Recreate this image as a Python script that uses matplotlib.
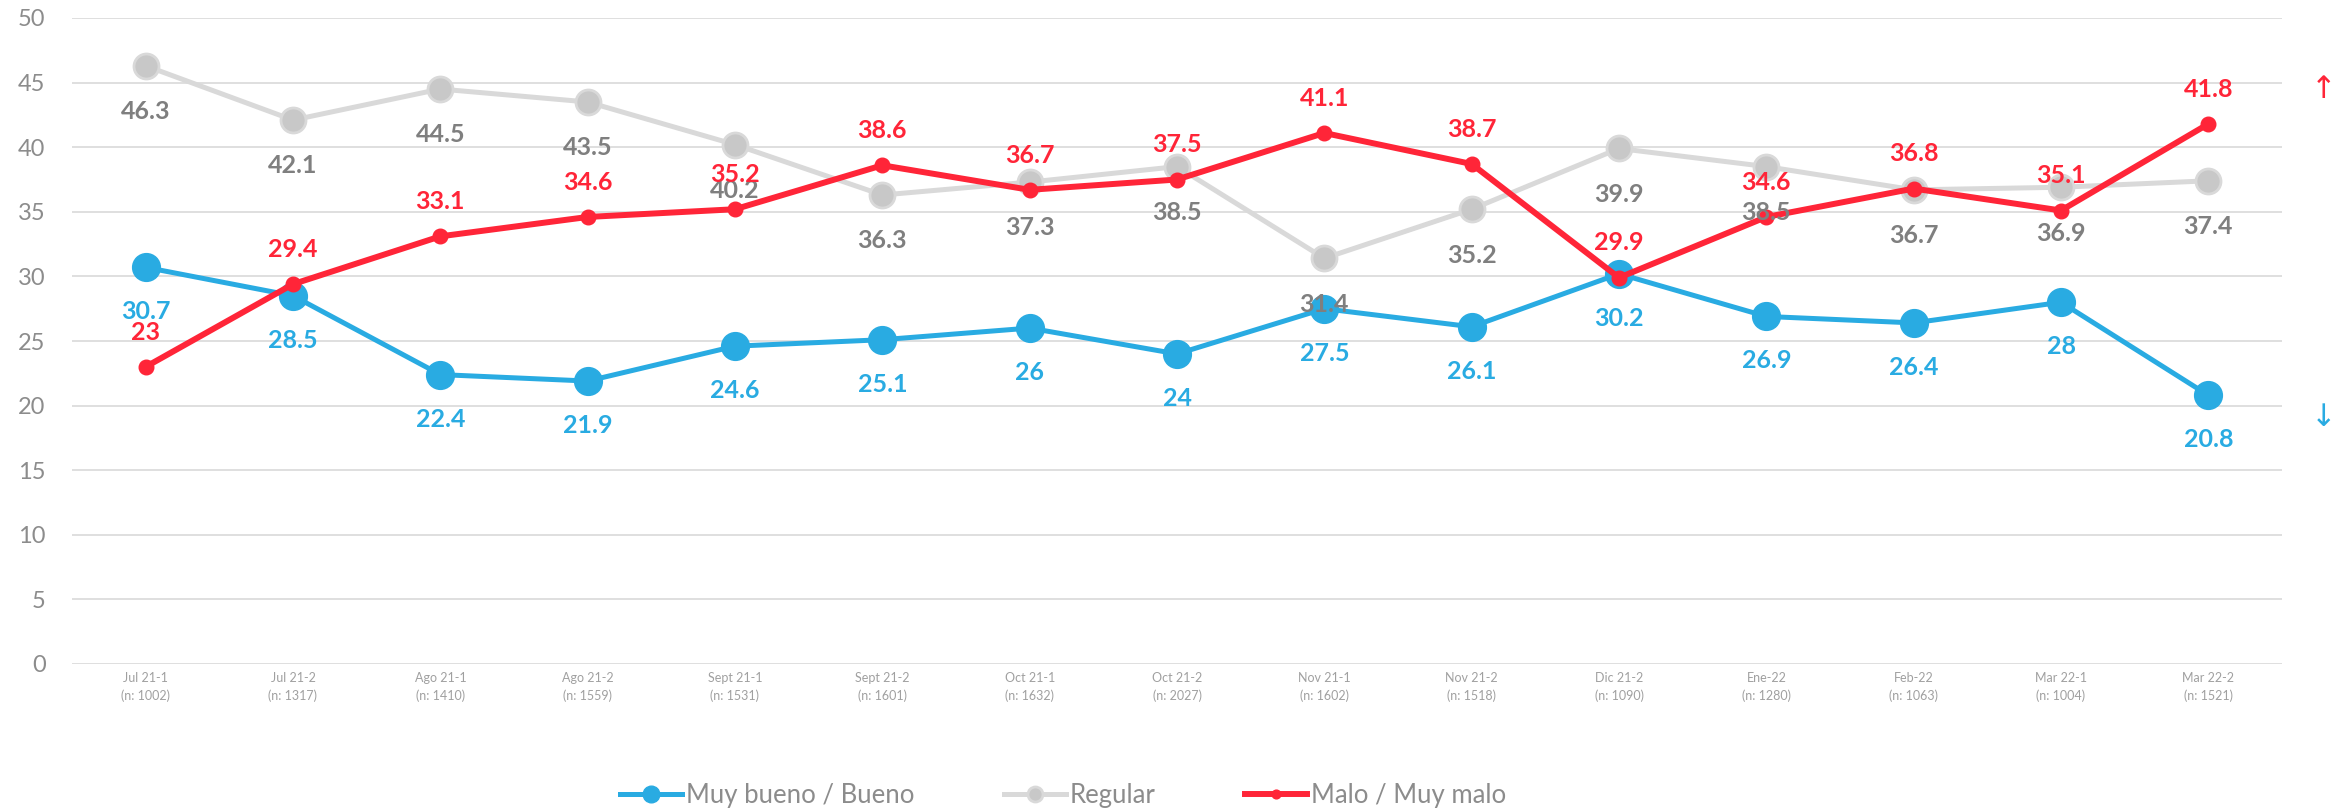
import matplotlib.pyplot as plt

periods = ["Jul 21-1", "Jul 21-2", "Ago 21-1", "Ago 21-2", "Sept 21-1", "Sept 21-2",
           "Oct 21-1", "Oct 21-2", "Nov 21-1", "Nov 21-2", "Dic 21-2", "Ene-22",
           "Feb-22", "Mar 22-1", "Mar 22-2"]
samples = [1002, 1317, 1410, 1559, 1531, 1601, 1632, 2027, 1602, 1518, 1090, 1280,
           1063, 1004, 1521]

muy_bueno = [30.7, 28.5, 22.4, 21.9, 24.6, 25.1, 26, 24, 27.5, 26.1, 30.2, 26.9, 26.4, 28, 20.8]
regular = [46.3, 42.1, 44.5, 43.5, 40.2, 36.3, 37.3, 38.5, 31.4, 35.2, 39.9, 38.5, 36.7, 36.9, 37.4]
malo = [23, 29.4, 33.1, 34.6, 35.2, 38.6, 36.7, 37.5, 41.1, 38.7, 29.9, 34.6, 36.8, 35.1, 41.8]

BLUE = '#29ABE2'
GRAY_LINE = '#D9D9D9'
GRAY_MARK = '#C8C8C8'
GRAY_TEXT = '#7F7F7F'
RED = '#FF2538'

plt.rcParams['font.family'] = ['Lato', 'DejaVu Sans']

W, H = 2351, 809
fig = plt.figure(figsize=(W / 100, H / 100), dpi=100)
ax = fig.add_axes([72 / W, 1 - 664 / H, 2210 / W, 646 / H])

x = list(range(len(periods)))

series = [
    (muy_bueno, 'Muy bueno / Bueno',
     dict(color=BLUE, lw=3.6, marker='o', ms=20, mfc=BLUE, mec=BLUE), BLUE, -32),
    (regular, 'Regular',
     dict(color=GRAY_LINE, lw=3.6, marker='o', ms=18, mfc=GRAY_MARK, mec=GRAY_LINE, mew=2),
     GRAY_TEXT, -33),
    (malo, 'Malo / Muy malo',
     dict(color=RED, lw=4.3, marker='o', ms=10.5, mfc=RED, mec=RED), RED, 25),
]

for vals, name, style, tcol, dy in series:
    ax.plot(x, vals, label=name, solid_joinstyle='round', **style)
    for xi, v in zip(x, vals):
        ax.annotate(f'{v:g}', (xi, v), xytext=(0, dy), textcoords='offset points',
                    ha='center', va='center', fontsize=18, fontweight='bold',
                    color=tcol, zorder=5)

ax.set_xlim(-0.5, len(periods) - 0.5)
ax.set_ylim(0, 50)
ax.set_yticks(range(0, 51, 5))
ax.set_xticks(x)
ax.set_xticklabels([f'{p}\n(n: {n})' for p, n in zip(periods, samples)],
                   fontsize=9, color='#A0A0A0', linespacing=1.5)
for lbl in ax.get_yticklabels():
    lbl.set_fontsize(17)
    lbl.set_color('#8C8C8C')
ax.tick_params(axis='y', length=0, pad=19)
ax.tick_params(axis='x', length=0, pad=6)
ax.grid(axis='y', color=GRAY_LINE, lw=1.2)
ax.set_axisbelow(True)
for s in ax.spines.values():
    s.set_visible(False)

# trend arrows at the right edge
ax.text(14.78, 44.5, '\u2191', color=RED, fontsize=22, ha='center', va='center',
        family='DejaVu Sans', clip_on=False)
ax.text(14.78, 19.1, '\u2193', color=BLUE, fontsize=22, ha='center', va='center',
        family='DejaVu Sans', clip_on=False)

fig.legend(loc='center', bbox_to_anchor=(1063 / W, 1 - 795 / H), ncol=3, frameon=False,
           prop={'size': 18.5}, handlelength=2.4, handletextpad=0.15,
           columnspacing=3.5, markerscale=0.6, labelcolor='#8C8C8C')

fig.savefig('out.png', dpi=100)
